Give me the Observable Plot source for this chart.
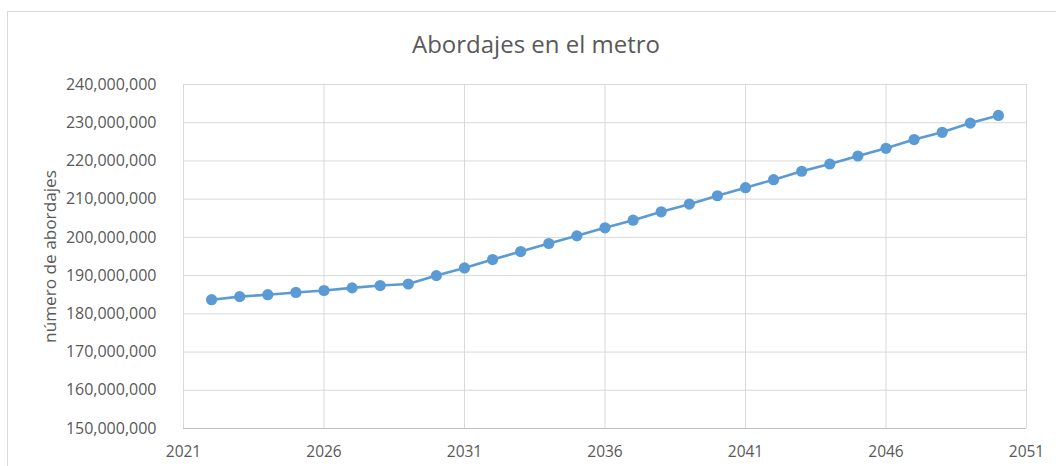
<!DOCTYPE html>
<html>
<head>
<meta charset="utf-8">
<script src="https://cdn.jsdelivr.net/npm/d3@7"></script>
<script src="https://cdn.jsdelivr.net/npm/@observablehq/plot@0.6"></script>
<style>
  html, body { margin: 0; padding: 0; background: #fff; }
  #wrap { position: relative; width: 1056px; height: 466px; overflow: hidden; font-family: "Open Sans", sans-serif; }
  #frame { position: absolute; left: 7px; top: 11px; width: 1100px; height: 520px; border: 1.5px solid #d9d9d9; box-sizing: border-box; }
  #title { position: absolute; left: 0; width: 1072px; top: 32px; text-align: center; font-size: 24px; line-height: 24px; color: #595959; }
  #chart { position: absolute; left: 0; top: 0; }
</style>
</head>
<body>
<div id="wrap">
  <div id="frame"></div>
  <div id="chart"></div>
  <div id="title">Abordajes en el metro</div>
</div>
<script>
const years = [2022, 2023, 2024, 2025, 2026, 2027, 2028, 2029, 2030, 2031,
               2032, 2033, 2034, 2035, 2036, 2037, 2038, 2039, 2040, 2041,
               2042, 2043, 2044, 2045, 2046, 2047, 2048, 2049, 2050];
const boardings = [183700000, 184500000, 185000000, 185600000, 186100000, 186800000, 187400000, 187800000, 190000000, 192000000,
                   194200000, 196300000, 198400000, 200400000, 202500000, 204500000, 206700000, 208700000, 210900000, 213000000,
                   215100000, 217300000, 219200000, 221300000, 223300000, 225600000, 227500000, 229900000, 231900000];
const xTicks = [2021, 2026, 2031, 2036, 2041, 2046, 2051];
const yTicks = [150000000, 160000000, 170000000, 180000000, 190000000, 200000000, 210000000, 220000000, 230000000, 240000000];
const yLabel = "número de abordajes";

const data = years.map((y, i) => ({year: y, value: boardings[i]}));

const chart = Plot.plot({
  width: 1056,
  height: 466,
  marginLeft: 183,
  marginRight: 30,
  marginTop: 84,
  marginBottom: 38,
  style: {fontFamily: "Open Sans", fontSize: "15.5px", color: "#595959", background: "transparent"},
  x: {domain: [2021, 2051]},
  y: {domain: [150000000, 240000000]},
  marks: [
    Plot.gridX(xTicks, {stroke: "#d9d9d9", strokeOpacity: 1, strokeWidth: 1}),
    Plot.gridY(yTicks, {stroke: "#d9d9d9", strokeOpacity: 1, strokeWidth: 1}),
    Plot.ruleY([yTicks[0]], {stroke: "#bfbfbf", strokeWidth: 1.2}),
    Plot.axisX(xTicks, {tickSize: 0, tickPadding: 17, tickFormat: d => String(d), label: null, fill: "#595959", fontSize: 15.5}),
    Plot.axisY(yTicks, {tickSize: 0, tickPadding: 27, tickFormat: d3.format(","), label: null, fill: "#595959", fontSize: 16}),
    Plot.text([yLabel], {frameAnchor: "left", rotate: -90, dx: -133, fill: "#595959", fontSize: 17.2, textAnchor: "middle"}),
    Plot.line(data, {x: "year", y: "value", stroke: "#5b9bd5", strokeWidth: 2.6}),
    Plot.dot(data, {x: "year", y: "value", r: 5.6, fill: "#5b9bd5", stroke: "none"})
  ]
});
document.getElementById("chart").appendChild(chart);
</script>
</body>
</html>
